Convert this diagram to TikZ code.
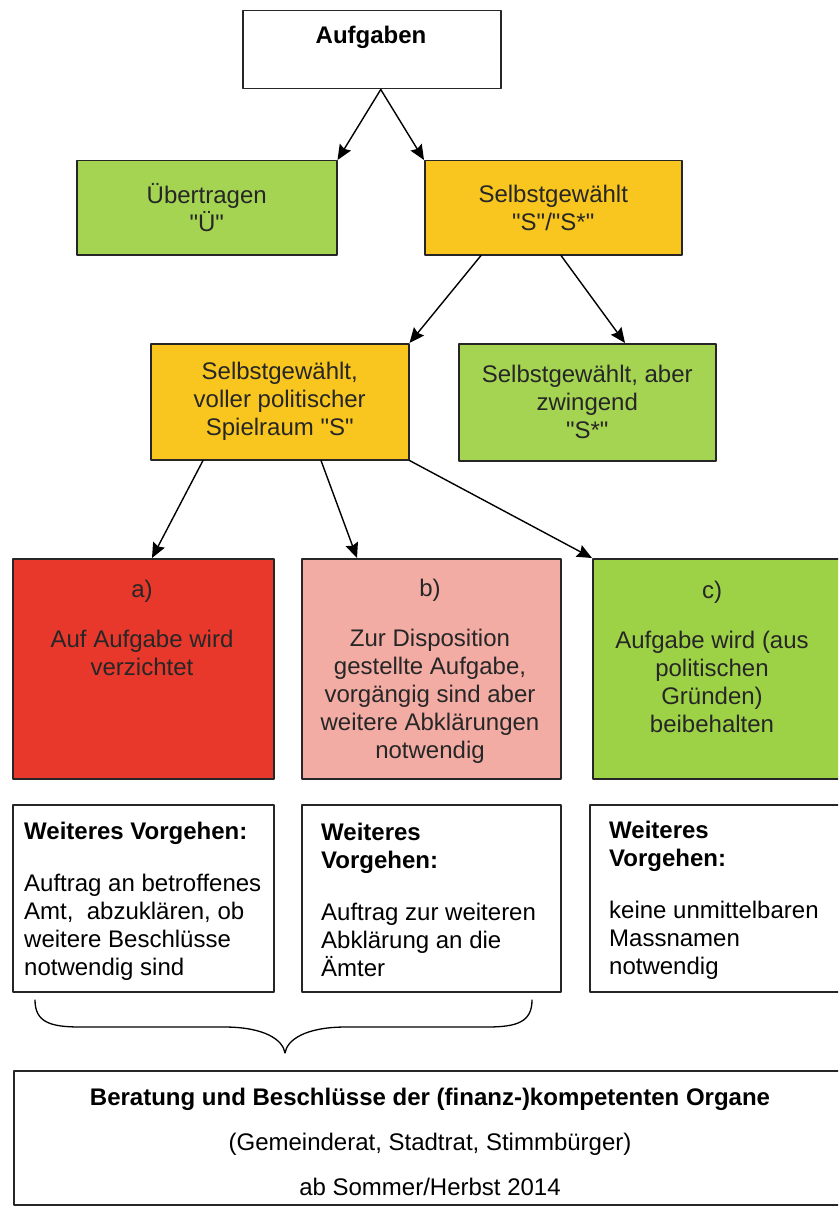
\documentclass[tikz,border=0pt]{standalone}
\usepackage{fontspec}
\setmainfont{Liberation Sans}[Ligatures=TeXOff]
\usetikzlibrary{arrows.meta,positioning}

\definecolor{gruen}{RGB}{164,212,82}
\definecolor{hellgruen}{RGB}{158,210,70}
\definecolor{gelb}{RGB}{248,198,30}
\definecolor{rot}{RGB}{232,56,44}
\definecolor{rosa}{RGB}{242,172,164}

\tikzset{
  kasten/.style={
    draw=black!85,
    line width=1.5pt,
    anchor=north west,
    inner sep=0pt
  },
  schrift/.style={
    font=\fontsize{24pt}{28pt}\selectfont,
    align=center,
    text=black!85,
    inner sep=0pt
  },
  pfeil/.style={
    line width=1.4pt,
    -{Stealth[length=15pt,width=13pt,inset=2pt]}
  }
}

\begin{document}
\begin{tikzpicture}[
  x=1pt,
  y=-1pt,
  line cap=round,
  line join=round
]
  \useasboundingbox (0,0) rectangle (838,1206);
  \clip (0,0) rectangle (838,1206);

  % Obere Ebene
  \node[kasten, fill=white, minimum width=258pt, minimum height=78pt]
    (aufg) at (242,10) {};
  \node[schrift, font=\fontsize{24pt}{28pt}\selectfont\bfseries, text=black]
    (aufgT) at (371,37) {Aufgaben};

  \node[kasten, fill=gruen, minimum width=260pt, minimum height=94pt]
    (ueber) at (76,160) {};
  \node[schrift] (ueberT) at (ueber.center) {Übertragen\\"Ü"};

  \node[kasten, fill=gelb, minimum width=257pt, minimum height=94pt]
    (selbst) at (424,160) {};
  \node[schrift] (selbstT) at (selbst.center)
    {Selbstgewählt\\"S"/"S*"};

  % Mittlere Ebene
  \node[kasten, fill=gelb, minimum width=258pt, minimum height=116pt]
    (voller) at (150,343) {};
  \node[schrift] (vollerT) at (voller.center)
    {Selbstgewählt,\\voller politischer\\Spielraum "S"};

  \node[kasten, fill=gruen, minimum width=257pt, minimum height=117pt]
    (aber) at (458,343) {};
  \node[schrift] (aberT) at (aber.center)
    {Selbstgewählt, aber\\zwingend\\"S*"};

  % Varianten a) b) c)
  \node[kasten, fill=rot, minimum width=261pt, minimum height=220pt]
    (va) at (12,558) {};
  \node[schrift] (vaT) at (142,628)
    {a)\\[22pt]Auf Aufgabe wird\\verzichtet};

  \node[kasten, fill=rosa, minimum width=259pt, minimum height=220pt]
    (vb) at (301,558) {};
  \node[schrift] (vbT) at (430,671)
    {b)\\[22pt]Zur Disposition\\gestellte Aufgabe,\\vorgängig sind aber\\weitere Abklärungen\\notwendig};

  \node[kasten, fill=hellgruen, minimum width=260pt, minimum height=220pt]
    (vc) at (592,558) {};
  \node[schrift] (vcT) at (712,657)
    {c)\\[22pt]Aufgabe wird (aus\\politischen\\Gründen)\\beibehalten};

  % Weiteres Vorgehen
  \node[kasten, fill=white, minimum width=261pt, minimum height=187pt]
    (wa) at (12,804) {};
  \node[schrift, align=left, text=black, anchor=west] (waT) at (24,901)
    {\textbf{Weiteres Vorgehen:}\\[24pt]Auftrag an betroffenes\\Amt,~ abzuklären, ob\\weitere Beschlüsse\\notwendig sind};

  \node[kasten, fill=white, minimum width=259pt, minimum height=187pt]
    (wb) at (301,804) {};
  \node[schrift, align=left, text=black, anchor=west] (wbT) at (321,900)
    {\textbf{Weiteres}\\\textbf{Vorgehen:}\\[24pt]Auftrag zur weiteren\\Abklärung an die\\Ämter};

  \node[kasten, fill=white, minimum width=262pt, minimum height=187pt]
    (wc) at (589,804) {};
  \node[schrift, align=left, text=black, anchor=west] (wcT) at (609,900)
    {\textbf{Weiteres}\\\textbf{Vorgehen:}\\[24pt]keine unmittelbaren\\Massnamen\\notwendig};

  % Klammer
  \coordinate (klL) at (35,1000);
  \coordinate (klM) at (285,1053);
  \coordinate (klR) at (532,1000);

  \draw[line width=1.3pt]
    (klL) .. controls (35,1022) and (50,1027) .. (80,1027)
    -- (224,1027)
    .. controls (265,1027) and (283,1040) .. (klM)
    .. controls (287,1040) and (305,1027) .. (346,1027)
    -- (487,1027)
    .. controls (517,1027) and (532,1022) .. (klR);

  % Beschluss
  \node[kasten, fill=white, minimum width=840pt, minimum height=134pt]
    (besch) at (13,1070) {};
  \node[schrift, text=black] (beschT) at (430,1142)
    {\textbf{Beratung und Beschlüsse der (finanz-)kompetenten Organe}\\[17pt]
     (Gemeinderat, Stadtrat, Stimmbürger)\\[17pt]
     ab Sommer/Herbst 2014};

  % Pfeile
  \draw[pfeil] ([xshift=9pt]aufg.south) -- (ueber.north east);
  \draw[pfeil] ([xshift=9pt]aufg.south) -- (selbst.north west);

  \draw[pfeil] ([xshift=57pt]selbst.south west) -- (voller.north east);
  \draw[pfeil] ([xshift=137pt]selbst.south west) -- ([xshift=167pt]aber.north west);

  \draw[pfeil] ([xshift=53pt]voller.south west) -- ([xshift=140pt]va.north west);
  \draw[pfeil] ([xshift=171pt]voller.south west) -- ([xshift=56pt]vb.north west);
  \draw[pfeil] (voller.south east) -- (vc.north west);
\end{tikzpicture}
\end{document}
